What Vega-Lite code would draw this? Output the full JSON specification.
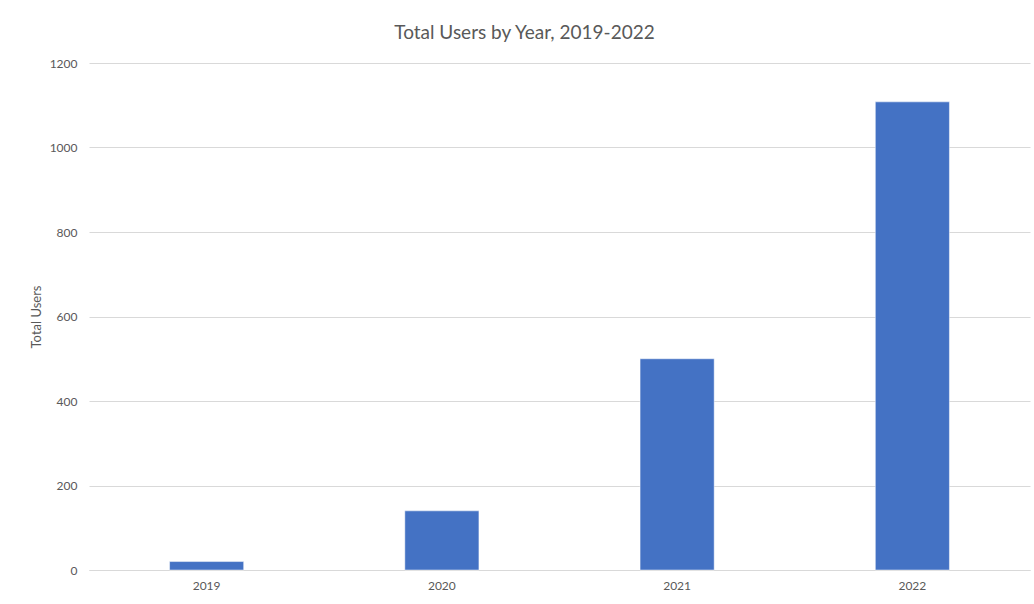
{
  "$schema": "https://vega.github.io/schema/vega-lite/v6.json",
  "width": 941,
  "height": 507,
  "autosize": {"type": "none"},
  "padding": {"left": 89, "top": 63, "right": 4, "bottom": 34},
  "background": "#ffffff",
  "title": {
    "text": "Total Users by Year, 2019-2022",
    "font": "Lato",
    "fontSize": 19,
    "fontWeight": "normal",
    "color": "#595959",
    "anchor": "middle",
    "frame": "group",
    "dx": -35,
    "offset": 14
  },
  "data": {
    "values": [
      {"Year": "2019", "Total Users": 20},
      {"Year": "2020", "Total Users": 140},
      {"Year": "2021", "Total Users": 500},
      {"Year": "2022", "Total Users": 1108}
    ]
  },
  "mark": {"type": "bar", "color": "#4472C4", "stroke": "#ffffff", "strokeWidth": 0.8, "strokeOpacity": 0.6},
  "encoding": {
    "x": {
      "field": "Year",
      "type": "ordinal",
      "scale": {"paddingInner": 0.685, "paddingOuter": 0.3425},
      "axis": {
        "title": null,
        "labelAngle": 0,
        "labelFont": "Lato",
        "labelFontSize": 12,
        "labelColor": "#595959",
        "labelPadding": 10,
        "ticks": false,
        "domainColor": "#d9d9d9",
        "domainWidth": 1
      }
    },
    "y": {
      "field": "Total Users",
      "type": "quantitative",
      "scale": {"domain": [0, 1200]},
      "axis": {
        "title": "Total Users",
        "titleFont": "Lato",
        "titleFontSize": 13,
        "titleFontWeight": "normal",
        "titleColor": "#595959",
        "titlePadding": 6,
        "values": [0, 200, 400, 600, 800, 1000, 1200],
        "format": "d",
        "labelFont": "Lato",
        "labelFontSize": 12,
        "labelColor": "#595959",
        "labelPadding": 12,
        "ticks": false,
        "domain": false,
        "gridColor": "#d9d9d9",
        "gridWidth": 1
      }
    }
  },
  "config": {"view": {"stroke": null}}
}
